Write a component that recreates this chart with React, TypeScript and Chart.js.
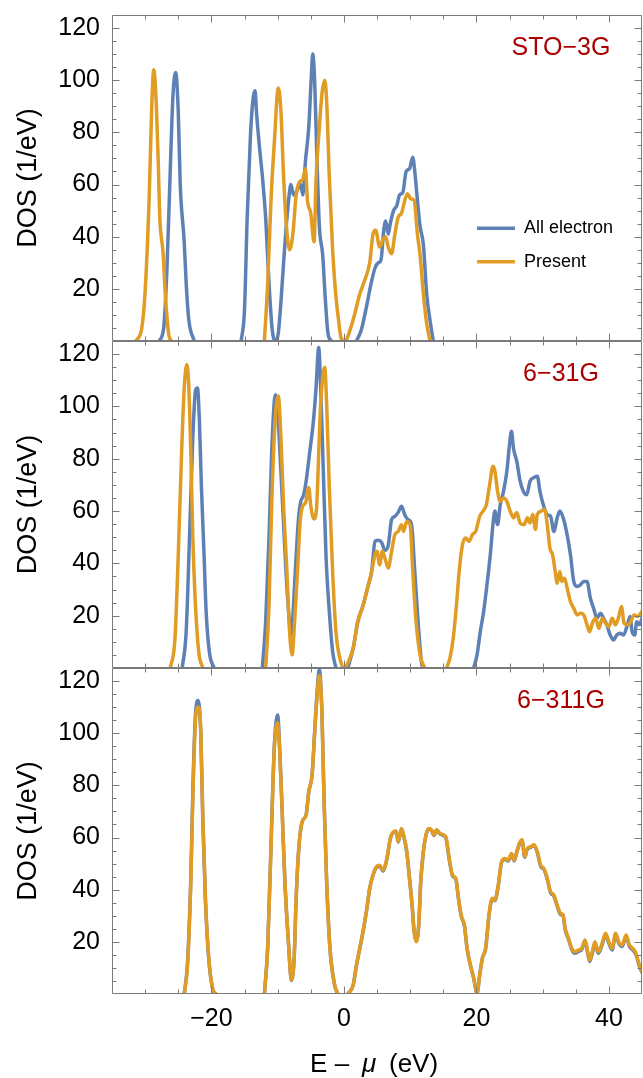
import React, { useEffect, useRef } from "react";
import { Chart, registerables } from "chart.js";

Chart.register(...registerables);

// ---------- axis / tick values ----------
const X_MIN = -35;
const X_MAX = 45;
const Y_MIN = 0;
const Y_MAX = 125;
const xTickValues = [-20, 0, 20, 40];
const xTickLabels = ["\u221220", "0", "20", "40"];
const yTickValues = [20, 40, 60, 80, 100, 120];
const seriesLabels = ["All electron", "Present"];
const panelNames = ["STO\u22123G", "6\u221231G", "6\u2212311G"];

// ---------- STO-3G ----------
const sto3gAllE = [-27.9,-27.2,-26.7,-26.2,-25.8,-25.4,-25.0,-24.7,-24.1,-23.8,-23.4,-22.6, -19,
  -15.5,-15.0,-14.6,-14.1,-13.7,-13.4,-13.2,-12.8,-12.3,-11.8,-11.3,-10.8,-10.3,
  -9.9,-9.5,-9.1,-8.7,-8.3,-8.0,-7.6,-7.2,-6.8,-6.5,-6.2,-5.8,-5.3,-4.9,-4.7,-4.4,-4.1,-3.7,-3.2,-2.8,-2.4,-1.9, 0,
  1.9,2.6,3.4,4.1,4.7,5.2,5.6,6.0,6.3,6.7,7.0,7.5,8.0,8.4,8.9,9.4,9.9,10.4,10.7,11.1,11.5,12.0,12.5,13.0,13.5];
const sto3gAllD = [0,5,28,66,94,103,88,60,38,22,8,0, null,
  0,12,47,79,93,96,88,76,63,47,22,4,0,
  3,15,30,44,55,60,56,57,59,60,56,69,82,102,110,99,73,44,33,16,3,0, null,
  0,4,13,22,28,30,31,42,46,41,45,50,52,56,57,65,66,70.5,65,54,44,37,18,8,0];

const sto3gPresE = [-31.4,-30.5,-30.0,-29.4,-29.0,-28.7,-28.3,-28.0,-27.8,-27.3,-26.9,-26.4,-26.0, -20,
  -12.0,-11.5,-11.0,-10.5,-9.9,-9.5,-9.1,-8.7,-8.2,-7.7,
  -7.2,-6.7,-6.2,-5.8,-5.5,-5.0,-4.5,-4.2,-3.7,-3.3,
  -2.9,-2.6,-2.2,-1.7,-1.2,-0.8,-0.4,0.2,
  0.9,1.6,2.4,3.1,3.9,4.4,4.8,5.4,5.9,6.3,
  6.7,7.2,7.7,8.2,8.7,9.2,9.6,10.1,10.6,11.1,
  11.5,12.0,12.5,13.0];
const sto3gPresD = [0,5,19,54,90,104,90,67,48,34,16,2,0, null,
  0,22,54,76,97,88,63,45,35,41,
  56,61,62,66,54,49,38,62,82,95,
  100,92,63,35,17,8,1,0,
  4,10,18,23,30,41,42.5,36,39,40,
  36,33.5,41,47.5,49,54,56.5,54.5,54,41,
  33,18,6.6,0];

// ---------- 6-31G ----------
const g631AllE = [-24.4,-23.8,-23.3,-22.8,-22.4,-22.1,-21.8,-21.5,-21.1,-20.8,-20.3,-19.6, -16,
  -12.3,-11.8,-11.3,-10.9,-10.5,-10.3,-9.9,-9.5,-9.0,-8.5,
  -7.9,-7.6,-7.2,-6.8,-6.5,-6.1,-5.7,-5.2,-4.6,-4.2,
  -3.8,-3.5,-3.1,-2.7,-2.2,-1.7,-1.2, -0.3,
  0.6,1.4,2.1,2.9,3.7,4.2,4.7,5.2,5.7,6.2,
  6.7,7.2,7.7,8.2,8.7,9.2,9.7,10.2,10.7,11.2,
  11.7,11.9, 15,
  19.6,20.1,20.6,21.1,21.6,22.1,22.5,22.8,23.2,23.6,
  24.1,24.6,25.0,25.3,25.6,26.1,26.6,27.1,27.6,28.1,
  28.6,29.2,29.6,30.1,30.7,31.2,31.7,32.2,32.6,33.1,
  33.6,34.2,34.7,35.2,35.7,36.2,36.7,37.2,37.7,38.2,
  38.7,39.2,39.7,40.2,40.7,41.2,41.7,42.2,42.8,43.2,
  43.5,43.9,44.2,44.6,45.0];
const g631AllD = [0,14,50,88,106,107,94,69,43,22,6,0, null,
  0,18,50,82,102,104.5,94,75,50,27,
  12.6,24,43,58.6,63.7,66,71.4,81.6,94.4,107,
  122.5,107,75,43,21.6,6.3,0, null,
  0,7.5,17.7,24,31.8,37,48.4,48.8,48,45,
  47,56.7,58,59.5,61.8,58.5,56.7,55,37,17.7,
  2.5,0, null,
  0,5,14,21.6,31.8,43.3,54.8,60,54.8,62.4,
  67.5,75.2,85.4,90.5,84,79,71.4,67.5,66.2,71.4,
  72.7,73.3,67.5,62.4,58.6,58,52.2,57.4,60,57.4,
  52.2,43.3,33.1,31.2,31.8,33.1,33.1,26.7,22.8,19,
  20.9,19,16.5,12.6,10.7,12.6,13.3,12.6,16.5,19.7,
  13.9,12.6,17.7,16.5,19];

const g631PresE = [-26.2,-25.5,-25.0,-24.5,-24.1,-23.7,-23.4,-23.1,-22.8,-22.4,-21.9,-21.3, -16,
  -11.8,-11.3,-10.9,-10.4,-9.9,-9.5,-9.1,-8.6,-8.2,-7.8,
  -7.5,-7.0,-6.6,-6.2,-5.8,-5.3,-5.0,-4.5,-4.1,-3.8,
  -3.5,-2.9,-2.6,-2.2,-1.7,-1.2,-0.5,0.1,
  0.6,1.4,2.1,2.9,3.7,4.2,4.7,5.0,5.4,5.8,
  6.2,6.7,7.2,7.7,8.2,8.7,9.0,9.5,10.0,10.4,
  10.9,11.5,12.2, 14,
  15.5,16.0,16.5,17.0,17.4,17.9,18.4,18.9,19.4,19.9,
  20.5,21.0,21.5,22.0,22.5,22.8,23.2,23.6,24.1,24.6,
  25.1,25.6,26.1,26.6,27.2,27.7,28.1,28.5,28.9,29.2,
  29.8,30.3,30.7,31.1,31.5,31.9,32.2,32.6,32.9,33.3,
  33.7,34.2,34.7,35.2,35.7,36.2,36.7,37.1,37.5,38.0,
  38.5,39.0,39.5,40.0,40.5,41.0,41.5,41.9,42.3,42.8,
  43.3,43.8,44.3,45.0];
const g631PresD = [0,11,43,82,107,116,107,82,50,24,6,0, null,
  0,24,62,94,104,88,62,37,14,5,
  15,37,56,62,63,69,62,57,62,82,
  101,115,101,69,37,14,2.6,0,
  2,7.5,17.7,24,31.8,37,43.3,44.6,39.4,44.6,
  42,38.2,44.6,51,52.2,54.8,52.2,56,54.8,37,
  17.7,5,0, null,
  0,3.7,11.3,24.1,36.9,47.1,49.7,48.4,51,52.2,
  58,60,62.4,70,77.1,75.2,67.5,63.7,65,63.7,
  60,57.4,59.4,55.4,54.8,57.4,55.4,58.7,53,58.7,
  60,60.6,54.8,45.8,43.3,36.9,32.4,36.9,33.1,34.3,
  30.5,25.4,22.8,20.3,20.9,20.3,16.5,13.9,17.1,19,
  15.2,19,17.1,15.8,19,16.5,19.7,23.5,17.1,16.5,
  17.7,20.3,19.7,21.6];

// ---------- 6-311G (both series share one energy grid) ----------
const g6311E = [-24.1,-23.6,-23.1,-22.8,-22.4,-22.0,-21.6,-21.3,-20.9,-20.4,-19.8,-19.3, -16,
  -12.0,-11.5,-11.0,-10.5,-10.0,-9.7,-9.3,-8.9,-8.4,-7.9,
  -7.5,-7.2,-6.8,-6.3,-5.7,-5.3,-4.8,-4.4,-4.0,-3.7,
  -3.3,-3.0,-2.6,-2.1,-1.4,-0.9, 0,
  0.6,1.4,1.9,2.4,2.9,3.4,3.9,4.4,4.9,5.4,
  5.9,6.5,7.0,7.5,7.9,8.2,8.7,9.0,9.5,9.8,
  10.3,10.6,10.9,11.3,11.6,12.0,12.4,12.8,13.2,13.6,
  14.0,14.5,15.0,15.4,15.9,16.4,16.9,17.3,17.7,18.2,
  18.6,19.1,19.6,20.1,20.5,20.9,21.4,21.9,22.4,22.8,
  23.3,23.8,24.3,24.8,25.3,25.7,26.1,26.5,26.9,27.3,
  27.7,28.2,28.7,29.2,29.7,30.2,30.7,31.2,31.7,32.2,
  32.7,33.1,33.4,33.9,34.4,34.9,35.4,35.9,36.4,36.8,
  37.1,37.5,37.9,38.4,38.9,39.5,40.0,40.5,41.0,41.5,
  42.0,42.6,43.1,43.6,44.1,44.6,45.0];
const g6311PresD = [0,11,43,75,105,110,101,69,37,14,2,0, null,
  0,17.5,56,94,104,94,69,43,21,5.4,
  14,37,56,66,68.6,77.5,84,100.5,115.8,122,
  107,75,43,17.5,3.5,0, null,
  0,3.4,11,17.5,24,31.6,40.5,45.6,48.8,49.4,
  47.5,52,59.6,62.2,62.5,58.4,63.5,61,54.6,47,
  34,24,20,26.4,43,54.6,61,63.5,63,61,
  63,61.6,61,60.3,52,45.6,44.3,36.7,30.3,26.4,
  17.5,11.1,6,0.3,7.3,13.7,17.5,30.3,36.7,36,
  41.8,50.7,52,51.3,53.9,51.3,54.6,57.8,59.1,52.7,
  55.9,56.5,57.2,54.6,49.4,48.1,44.3,39.2,37.9,34.1,
  30.9,30.3,25.2,21.4,17.5,16.2,16.9,17.5,20.7,16.2,
  13,16.2,20,16.2,18.8,23.3,20,17.5,23.3,20,
  18.8,22.6,18.8,17.5,15.6,11.1,8.6];
const g6311AllD = [0,12,45,78,107,112.5,100,67,36,13.5,2,0, null,
  0,18,57,95,107,95,69,43,21,5.2,
  14,37,56,66,68.6,77.5,84,101,117.5,124.5,
  107,75,43,17.5,3.5,0, null,
  0,3.4,11,17.5,24,31.6,40.5,45.6,48.5,49,
  47.2,51.8,59.4,62,62.3,58.2,63.3,60.8,54.4,47,
  34,24,20.5,26.4,43,54.6,61,63.3,62.8,60.8,
  62.8,61.4,60.8,59.8,51.6,45.3,44,36.5,30,26,
  17.3,11,6,0.3,7.3,13.7,17.5,30,36.5,35.8,
  41.5,50.4,51.7,51,53.6,51,54.3,57.5,58.8,52.4,
  55.6,56.2,57,54.2,49,47.8,44,38.8,37.5,33.7,
  30.5,29.8,24.7,21,17,15.6,16.3,17,20.2,15.6,
  12.5,15.6,19.4,15.6,18.2,22.7,19.4,16.9,22.7,19.4,
  18.2,22,18.2,16.9,15,10.6,8.2];

// ---------- styles ----------
const FONT = '"Liberation Sans", Arial, Helvetica, sans-serif';
const BLUE = "#5e81b5";
const ORANGE = "#e19c24";
const FRAME = "#7a7a7a";
const LABEL_RED = "#aa0000";
const PAD = 40;
const X_AXIS_H = 84;

type PanelCfg = {
  name: string;
  allE: number[]; allD: (number | null)[];
  presE: number[]; presD: (number | null)[];
  top: number; bottom: number;
  legend: boolean; xAxis: boolean;
};

const panels: PanelCfg[] = [
  { name: panelNames[0], allE: sto3gAllE, allD: sto3gAllD, presE: sto3gPresE, presD: sto3gPresD, top: 15, bottom: 341, legend: true, xAxis: false },
  { name: panelNames[1], allE: g631AllE, allD: g631AllD, presE: g631PresE, presD: g631PresD, top: 341, bottom: 668, legend: false, xAxis: false },
  { name: panelNames[2], allE: g6311E, allD: g6311AllD, presE: g6311E, presD: g6311PresD, top: 668, bottom: 994, legend: false, xAxis: true },
];

function toPoints(es: number[], ds: (number | null)[]) {
  return es.map((e, i) => ({ x: e, y: ds[i] }));
}

const frameTicksPlugin = {
  id: "frameTicks",
  afterDatasetsDraw(chart: any) {
    const { ctx, chartArea: a, scales } = chart;
    const xs = scales.x, ys = scales.y;
    const L = Math.round(a.left) + 0.5, R = Math.round(a.right) - 0.5;
    const T = Math.round(a.top) + 0.5, B = Math.round(a.bottom) - 0.5;
    ctx.save();
    ctx.strokeStyle = FRAME;
    ctx.lineWidth = 1;
    ctx.beginPath();
    ctx.rect(L, T, R - L, B - T);
    for (let v = X_MIN + 5; v < X_MAX; v += 5) {
      const len = v % 20 === 0 ? 7 : 4;
      const px = Math.round(xs.getPixelForValue(v)) + 0.5;
      ctx.moveTo(px, B); ctx.lineTo(px, B - len);
      ctx.moveTo(px, T); ctx.lineTo(px, T + len);
    }
    for (let v = Y_MIN + 5; v < Y_MAX; v += 5) {
      const len = v % 20 === 0 ? 7 : 4;
      const py = Math.round(ys.getPixelForValue(v)) + 0.5;
      ctx.moveTo(L, py); ctx.lineTo(L + len, py);
      ctx.moveTo(R, py); ctx.lineTo(R - len, py);
    }
    ctx.stroke();
    ctx.restore();
  },
};

const annotPlugin = {
  id: "annot",
  afterDraw(chart: any, _args: any, opts: any) {
    const { ctx, chartArea: a } = chart;
    ctx.save();
    // panel name
    ctx.fillStyle = LABEL_RED;
    ctx.font = `25px ${FONT}`;
    ctx.textAlign = "center";
    ctx.textBaseline = "middle";
    ctx.fillText(opts.name, a.right - 81, a.top + 33);
    // legend
    if (opts.legend) {
      const ds = chart.data.datasets;
      const ys = [a.top + 213.3, a.top + 246.7];
      ctx.font = `18px ${FONT}`;
      ctx.textAlign = "left";
      for (let i = 0; i < ds.length; i++) {
        ctx.strokeStyle = ds[i].borderColor;
        ctx.lineWidth = 3.5;
        ctx.beginPath();
        ctx.moveTo(a.right - 165, ys[i]);
        ctx.lineTo(a.right - 127, ys[i]);
        ctx.stroke();
        ctx.fillStyle = "#000";
        ctx.fillText(ds[i].label, a.right - 118, ys[i]);
      }
    }
    // x-axis title with italic mu
    if (opts.xTitle) {
      const cx = (a.left + a.right) / 2;
      const yb = a.bottom + 78;
      ctx.fillStyle = "#000";
      ctx.textBaseline = "alphabetic";
      ctx.font = `26px ${FONT}`;
      ctx.textAlign = "left";
      ctx.fillText("E", cx - 67, yb);
      ctx.textAlign = "center";
      ctx.fillText("\u2013", cx - 35, yb);
      ctx.textAlign = "left";
      ctx.font = `italic 26px ${FONT}`;
      ctx.fillText("\u03bc", cx - 15, yb);
      ctx.font = `26px ${FONT}`;
      ctx.fillText("(eV)", cx + 12, yb);
    }
    ctx.restore();
  },
};

function Panel({ cfg }: { cfg: PanelCfg }) {
  const ref = useRef<HTMLCanvasElement>(null);
  const h = cfg.bottom - cfg.top;
  const bottomPad = cfg.xAxis ? X_AXIS_H : PAD;
  const canvasH = PAD + h + bottomPad;
  const canvasTop = cfg.top - PAD;

  useEffect(() => {
    if (!ref.current) return;
    const lineCommon = {
      pointRadius: 0,
      borderWidth: 3.5,
      fill: false,
      cubicInterpolationMode: "monotone" as const,
      spanGaps: false,
      clip: 0,
      borderJoinStyle: "round" as const,
      borderCapStyle: "round" as const,
    };
    const chart = new Chart(ref.current, {
      type: "line",
      data: {
        datasets: [
          { ...lineCommon, label: seriesLabels[0], data: toPoints(cfg.allE, cfg.allD) as any, borderColor: BLUE, order: 2 },
          { ...lineCommon, label: seriesLabels[1], data: toPoints(cfg.presE, cfg.presD) as any, borderColor: ORANGE, order: 1 },
        ],
      },
      options: {
        animation: false,
        responsive: false,
        devicePixelRatio: 1,
        events: [],
        layout: { padding: { top: PAD, bottom: cfg.xAxis ? 0 : PAD, left: 0, right: 1 } },
        plugins: {
          legend: { display: false },
          tooltip: { enabled: false },
          annot: { name: cfg.name, legend: cfg.legend, xTitle: cfg.xAxis },
        } as any,
        scales: {
          x: {
            type: "linear",
            min: X_MIN,
            max: X_MAX,
            display: cfg.xAxis,
            grid: { display: false, drawTicks: false },
            border: { display: false },
            afterBuildTicks: (s: any) => { s.ticks = xTickValues.map((v) => ({ value: v })); },
            afterFit: (s: any) => { s.height = cfg.xAxis ? X_AXIS_H : 0; },
            ticks: {
              autoSkip: false,
              maxRotation: 0,
              padding: 10,
              color: "#000",
              font: { family: FONT, size: 25 },
              callback: (v: any) => {
                const i = xTickValues.indexOf(Number(v));
                return i >= 0 ? xTickLabels[i] : "";
              },
            },
          },
          y: {
            type: "linear",
            min: Y_MIN,
            max: Y_MAX,
            grid: { display: false, drawTicks: false },
            border: { display: false },
            afterBuildTicks: (s: any) => { s.ticks = yTickValues.map((v) => ({ value: v })); },
            afterFit: (s: any) => { s.width = 112; },
            ticks: {
              autoSkip: false,
              padding: 12,
              color: "#000",
              font: { family: FONT, size: 25 },
              callback: (v: any) => String(v),
            },
            title: {
              display: true,
              text: "DOS (1/eV)",
              color: "#000",
              font: { family: FONT, size: 27 },
              padding: { top: 12, bottom: 0 },
            },
          },
        },
      },
      plugins: [frameTicksPlugin, annotPlugin],
    });
    return () => chart.destroy();
  }, []);

  return (
    <canvas
      ref={ref}
      width={643}
      height={canvasH}
      style={{ position: "absolute", left: 0, top: canvasTop, width: 643, height: canvasH }}
    />
  );
}

export default function App() {
  return (
    <div style={{ position: "absolute", left: 0, top: 0, width: 643, height: 1078, overflow: "hidden", background: "#fff" }}>
      {panels.map((p, i) => (
        <Panel key={i} cfg={p} />
      ))}
    </div>
  );
}
